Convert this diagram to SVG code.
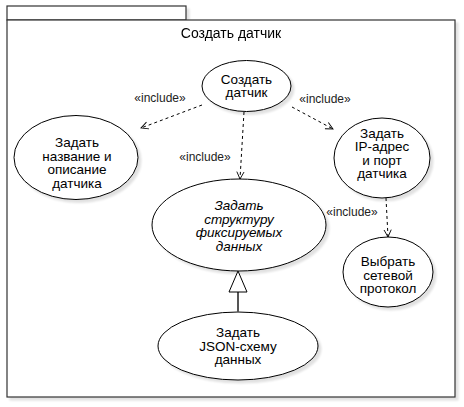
<svg xmlns="http://www.w3.org/2000/svg" width="464" height="407" viewBox="0 0 464 407">
  <style>
    .shape { fill: #ffffff; stroke: #000000; stroke-width: 1; }
    .frame { fill: #ffffff; stroke: #333333; stroke-width: 1.2; }
    .t { font-family: "Liberation Sans", Arial, sans-serif; font-size: 13.5px; fill: #000000; text-anchor: middle; }
    .it { font-style: italic; }
    .lbl { font-family: "Liberation Sans", Arial, sans-serif; font-size: 12px; fill: #222222; text-anchor: middle; }
    .dash { fill: none; stroke: #000000; stroke-width: 1; stroke-dasharray: 3 3; }
    .gen { fill: none; stroke: #555555; stroke-width: 2; }
  </style>
  <defs>
    <filter id="sh" x="-10%" y="-10%" width="130%" height="130%">
      <feGaussianBlur in="SourceAlpha" stdDeviation="1.2"/>
      <feOffset dx="3" dy="3" result="b"/>
      <feComponentTransfer><feFuncA type="linear" slope="0.12"/></feComponentTransfer>
      <feMerge><feMergeNode/><feMergeNode in="SourceGraphic"/></feMerge>
    </filter>
    <marker id="open" viewBox="0 0 10 10" refX="9" refY="5" markerWidth="9" markerHeight="9" markerUnits="userSpaceOnUse" orient="auto">
      <path d="M1,1 L9,5 L1,9" fill="none" stroke="#000" stroke-width="1"/>
    </marker>
  </defs>

  <g id="frame" filter="url(#sh)">
    <rect class="frame" x="7" y="6" width="179" height="14"/>
    <rect class="frame" x="7" y="20" width="448" height="377"/>
    <text class="t" x="231" y="38" style="font-size:14px">Создать датчик</text>
  </g>

  <g id="create">
    <ellipse class="shape" cx="246.5" cy="86" rx="44.5" ry="25.5" filter="url(#sh)"/>
    <text class="t" x="246.5" y="83.5">Создать</text>
    <text class="t" x="246.5" y="97">датчик</text>
  </g>

  <g id="name">
    <ellipse class="shape" cx="76" cy="157.5" rx="62" ry="42" filter="url(#sh)"/>
    <text class="t" x="77" y="147">Задать</text>
    <text class="t" x="77" y="160.5">название и</text>
    <text class="t" x="77" y="174">описание</text>
    <text class="t" x="77" y="187.5">датчика</text>
  </g>

  <g id="ip">
    <ellipse class="shape" cx="382" cy="158" rx="48" ry="40" filter="url(#sh)"/>
    <text class="t" x="382" y="137.5">Задать</text>
    <text class="t" x="382" y="151">IP-адрес</text>
    <text class="t" x="382" y="164.5">и порт</text>
    <text class="t" x="382" y="178">датчика</text>
  </g>

  <g id="structure">
    <ellipse class="shape" cx="239" cy="225" rx="87" ry="46" filter="url(#sh)"/>
    <text class="t it" x="239" y="210">Задать</text>
    <text class="t it" x="239" y="223.5">структуру</text>
    <text class="t it" x="239" y="237">фиксируемых</text>
    <text class="t it" x="239" y="250.5">данных</text>
  </g>

  <g id="protocol">
    <ellipse class="shape" cx="388" cy="272" rx="45" ry="35" filter="url(#sh)"/>
    <text class="t" x="388" y="266">Выбрать</text>
    <text class="t" x="388" y="279.5">сетевой</text>
    <text class="t" x="388" y="293">протокол</text>
  </g>

  <g id="json">
    <ellipse class="shape" cx="238" cy="346" rx="80" ry="34" filter="url(#sh)"/>
    <text class="t" x="238" y="337">Задать</text>
    <text class="t" x="238" y="350.5">JSON-схему</text>
    <text class="t" x="238" y="364">данных</text>
  </g>

  <g id="connectors">
    <path class="dash" d="M202,105 L141,128" marker-end="url(#open)"/>
    <path class="dash" d="M292,107 L333,129" marker-end="url(#open)"/>
    <path class="dash" d="M244,112 L240,179" marker-end="url(#open)"/>
    <path class="dash" d="M386,198 L388,237" marker-end="url(#open)"/>
    <path class="gen" d="M238,312 L238,292"/>
    <path d="M238,271 L247,292 L229,292 Z" fill="#ffffff" stroke="#000000" stroke-width="1"/>
    <text class="lbl" x="160" y="102">«include»</text>
    <text class="lbl" x="325" y="103">«include»</text>
    <text class="lbl" x="205" y="161">«include»</text>
    <text class="lbl" x="352" y="216">«include»</text>
  </g>
</svg>
